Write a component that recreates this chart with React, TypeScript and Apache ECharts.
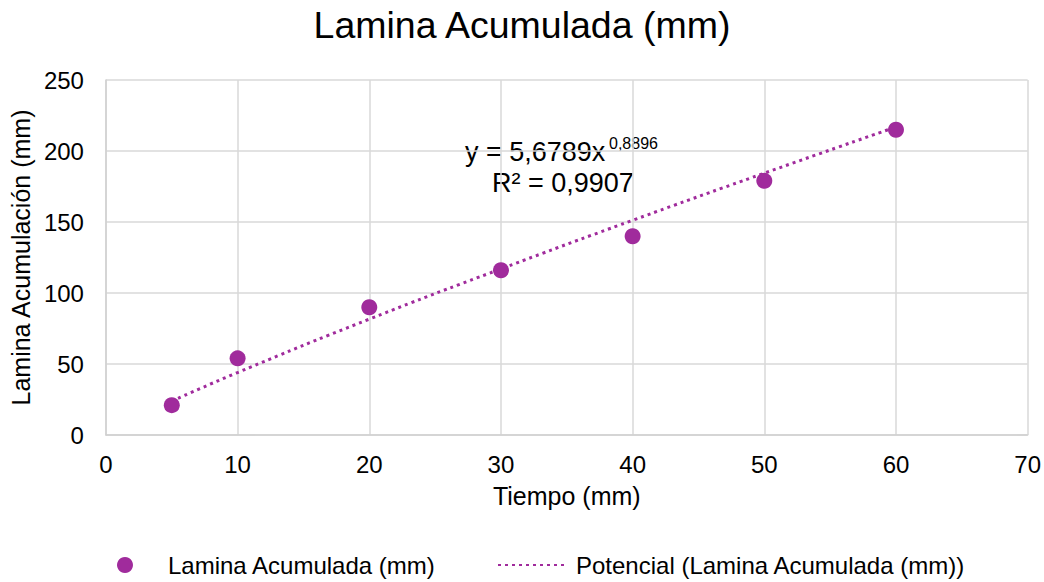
import React, { useEffect, useRef } from "react";
import * as echarts from "echarts";

const tiempo = [5, 10, 20, 30, 40, 50, 60];
const lamina = [21, 54, 90, 116, 140, 179, 215];
const trendX = [5, 10, 20, 30, 40, 50, 60];
const trendY = [23.8, 44.0, 81.6, 117.0, 151.2, 184.4, 216.9];
const seriesName = "Lamina Acumulada (mm)";
const trendName = "Potencial (Lamina Acumulada (mm))";

const FONT = "'Liberation Sans', Arial, sans-serif";
const PURPLE = "#A02B9C";

export default function App() {
  const ref = useRef<HTMLDivElement>(null);
  useEffect(() => {
    const chart = echarts.init(ref.current!, null, { renderer: "svg" });
    chart.setOption({
      animation: false,
      backgroundColor: "#fff",
      title: {
        text: "Lamina Acumulada (mm)",
        left: "center",
        top: 1,
        textStyle: { fontFamily: FONT, fontSize: 37.5, fontWeight: "normal", color: "#000" },
      },
      grid: { left: 105, right: 16, top: 80, bottom: 147 },
      xAxis: {
        type: "value",
        min: 0,
        max: 70,
        interval: 10,
        name: "Tiempo (mm)",
        nameLocation: "middle",
        nameGap: 48,
        nameTextStyle: { fontFamily: FONT, fontSize: 25, color: "#000" },
        axisLine: { lineStyle: { color: "#d0d0d0", width: 1.5 } },
        axisTick: { show: false },
        axisLabel: { fontFamily: FONT, fontSize: 24, color: "#000", margin: 17 },
        splitLine: { show: true, lineStyle: { color: "#d9d9d9", width: 1.5 } },
      },
      yAxis: {
        type: "value",
        min: 0,
        max: 250,
        interval: 50,
        name: "Lamina Acumulación (mm)",
        nameLocation: "middle",
        nameGap: 62,
        nameTextStyle: { fontFamily: FONT, fontSize: 25, color: "#000" },
        axisLine: { show: true, lineStyle: { color: "#d0d0d0", width: 1.5 } },
        axisTick: { show: false },
        axisLabel: { fontFamily: FONT, fontSize: 24, color: "#000", margin: 22 },
        splitLine: { show: true, lineStyle: { color: "#d9d9d9", width: 1.5 } },
      },
      legend: [
        {
          top: 553,
          left: 117,
          padding: 0,
          itemWidth: 76,
          itemHeight: 16,
          textStyle: { fontFamily: FONT, fontSize: 24, color: "#000" },
          data: [{ name: seriesName, icon: "circle" }],
        },
        {
          top: 553,
          left: 497,
          padding: 0,
          itemWidth: 66,
          itemHeight: 16,
          textStyle: { fontFamily: FONT, fontSize: 24, color: "#000", padding: [0, 0, 0, 7] },
          data: [{ name: trendName, itemStyle: { opacity: 0 } }],
        },
      ],
      series: [
        {
          name: trendName,
          type: "line",
          data: trendX.map((x, i) => [x, trendY[i]]),
          symbol: "none",
          smooth: true,
          lineStyle: { color: PURPLE, width: 3, type: [3, 4] },
          itemStyle: { color: PURPLE },
          z: 2,
        },
        {
          name: seriesName,
          type: "scatter",
          data: tiempo.map((x, i) => [x, lamina[i]]),
          symbol: "circle",
          symbolSize: 16,
          itemStyle: { color: PURPLE, opacity: 1 },
          z: 3,
        },
      ],
      graphic: [
        {
          type: "text",
          x: 465,
          y: 152,
          style: { text: "y = 5,6789x", fontFamily: FONT, fontSize: 27, fill: "#000", verticalAlign: "middle" },
        },
        {
          type: "text",
          x: 609,
          y: 143,
          style: { text: "0,8896", fontFamily: FONT, fontSize: 16, fill: "#000", verticalAlign: "middle" },
        },
        {
          type: "text",
          x: 492,
          y: 183,
          style: { text: "R² = 0,9907", fontFamily: FONT, fontSize: 27, fill: "#000", verticalAlign: "middle" },
        },
      ],
    });
    return () => chart.dispose();
  }, []);
  return (
    <div
      ref={ref}
      style={{ position: "absolute", left: 0, top: 0, width: 1044, height: 582 }}
    />
  );
}
